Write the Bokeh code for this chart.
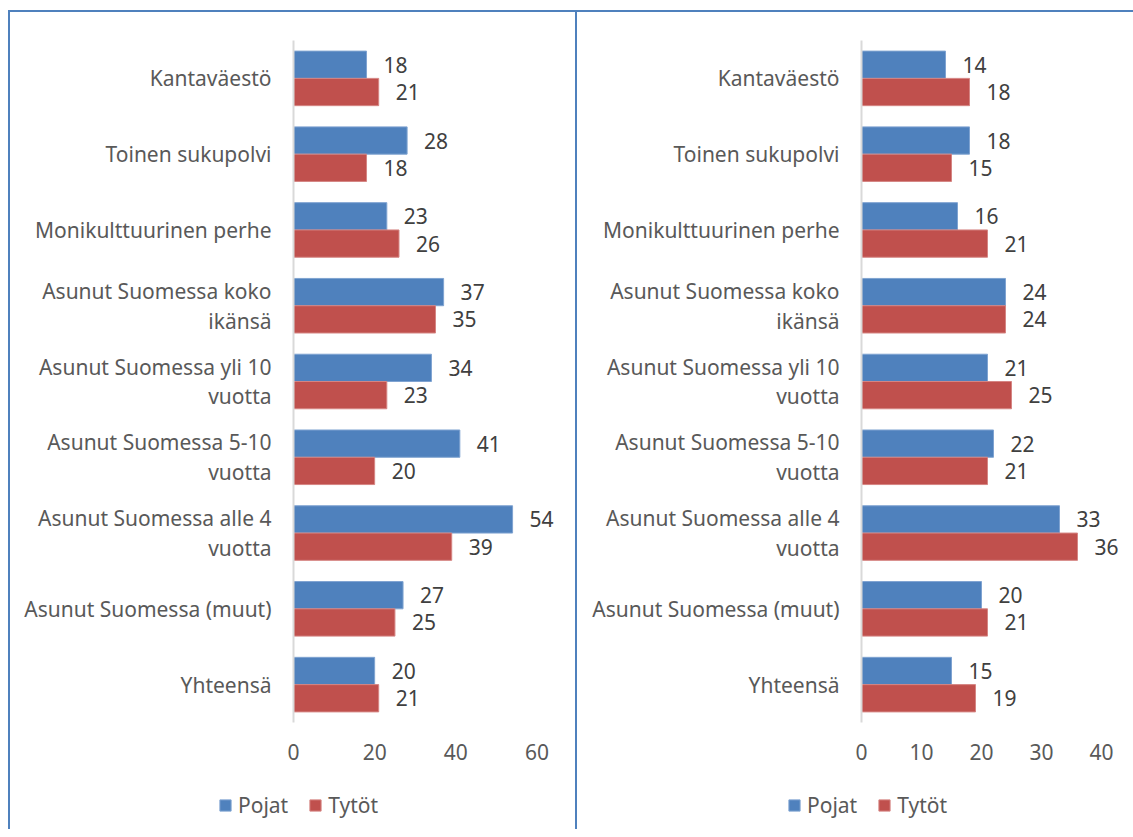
from bokeh.plotting import figure
from bokeh.layouts import row, column
from bokeh.models import FactorRange, Legend, LegendItem
from bokeh.transform import dodge
from bokeh.core.properties import value
from bokeh.embed import file_html
from bokeh.resources import INLINE

categories = ["Kantaväestö", "Toinen sukupolvi", "Monikulttuurinen perhe",
              "Asunut Suomessa koko\nikänsä", "Asunut Suomessa yli 10\nvuotta",
              "Asunut Suomessa 5-10\nvuotta", "Asunut Suomessa alle 4\nvuotta",
              "Asunut Suomessa (muut)", "Yhteensä"]
left_pojat = [18, 28, 23, 37, 34, 41, 54, 27, 20]
left_tytot = [21, 18, 26, 35, 23, 20, 39, 25, 21]
right_pojat = [14, 18, 16, 24, 21, 22, 33, 20, 15]
right_tytot = [18, 15, 21, 24, 25, 21, 36, 21, 19]
left_ticks = [0, 20, 40, 60]
right_ticks = [0, 10, 20, 30, 40]
series_names = ["Pojat", "Tytöt"]

BLUE = "#4F81BD"
RED = "#C0504D"
FONT = "Noto Sans"
BORDER = "2px solid #4F81BD"
H1 = 770
H2 = 49


def make_panel(pojat, tytot, ticks, x_end, width, border_left, border_right, legend_x, sides):
    p = figure(width=width, height=H1, y_range=FactorRange(*categories[::-1], range_padding=0),
               x_range=(ticks[0], x_end), output_backend="svg", toolbar_location=None,
               min_border_left=border_left, min_border_right=border_right,
               min_border_top=28, min_border_bottom=H1 - 2 - 28 - 680)
    p.frame_align = False
    data = dict(cat=categories, pojat=pojat, tytot=tytot,
                pl=[str(v) for v in pojat], tl=[str(v) for v in tytot])
    p.hbar(y=dodge("cat", 0.18, range=p.y_range), right="pojat", left=0, height=0.36,
           source=data, fill_color=BLUE, line_color="#7FA3D1", line_width=1)
    p.hbar(y=dodge("cat", -0.18, range=p.y_range), right="tytot", left=0, height=0.36,
           source=data, fill_color=RED, line_color="#D58583", line_width=1)
    for fld, lab, off in (("pojat", "pl", 0.18), ("tytot", "tl", -0.18)):
        p.text(x=fld, y=dodge("cat", off, range=p.y_range), text=lab, source=data,
               x_offset=17, text_baseline="middle", text_align="left",
               text_font=value(FONT), text_font_size="21px", text_color="#404040")
    p.xgrid.visible = False
    p.ygrid.visible = False
    p.outline_line_color = None
    p.xaxis.ticker = ticks
    p.xaxis.axis_line_color = None
    p.xaxis.major_tick_line_color = None
    p.xaxis.minor_tick_line_color = None
    p.xaxis.major_label_standoff = 15
    p.xaxis.major_label_text_font = FONT
    p.xaxis.major_label_text_font_size = "21px"
    p.xaxis.major_label_text_color = "#595959"
    p.yaxis.axis_line_color = "#D9D9D9"
    p.yaxis.axis_line_width = 2
    p.yaxis.major_tick_line_color = None
    p.yaxis.minor_tick_line_color = None
    p.yaxis.major_label_standoff = 16
    p.yaxis.major_label_text_font = FONT
    p.yaxis.major_label_text_font_size = "21px"
    p.yaxis.major_label_text_color = "#595959"
    p.yaxis.major_label_text_line_height = 1.07

    # legend strip below the chart
    q = figure(width=width, height=H2, x_range=(0, 1), y_range=(0, 1),
               output_backend="svg", toolbar_location=None,
               min_border=0, x_axis_type=None, y_axis_type=None)
    q.frame_align = False
    q.xgrid.visible = False
    q.ygrid.visible = False
    q.outline_line_color = None
    k1 = q.hbar(y="pojat", right="pojat", left=0, height=0.5, source=data,
                fill_color=BLUE, line_color="#7FA3D1", visible=False)
    k2 = q.hbar(y="tytot", right="tytot", left=0, height=0.5, source=data,
                fill_color=RED, line_color="#D58583", visible=False)
    legend = Legend(items=[LegendItem(label=series_names[0], renderers=[k1]),
                           LegendItem(label=series_names[1], renderers=[k2])],
                    orientation="horizontal", location=(legend_x, 10),
                    glyph_width=14, glyph_height=14, label_standoff=6, spacing=20,
                    padding=0, margin=0, border_line_color=None, background_fill_alpha=0,
                    label_text_font=FONT, label_text_font_size="21px",
                    label_text_color="#595959", label_height=20, click_policy="none")
    q.add_layout(legend)
    top = {"border-top": BORDER}
    mid = {}
    if "l" in sides:
        top["border-left"] = BORDER
        mid["border-left"] = BORDER
    if "r" in sides:
        top["border-right"] = BORDER
        mid["border-right"] = BORDER
    p.styles = top
    q.styles = mid
    return column(p, q, spacing=0)


c1 = make_panel(left_pojat, left_tytot, left_ticks, 70, 569, 283, 2, 208, "lr")
c1.styles = {"margin-top": "10px", "margin-left": "8px"}
c2 = make_panel(right_pojat, right_tytot, right_ticks, 44, 556, 284, 8, 210, "")
c2.styles = {"margin-top": "10px"}

layout = row(c1, c2, spacing=0)
open("out.html", "w").write(file_html(layout, INLINE))
